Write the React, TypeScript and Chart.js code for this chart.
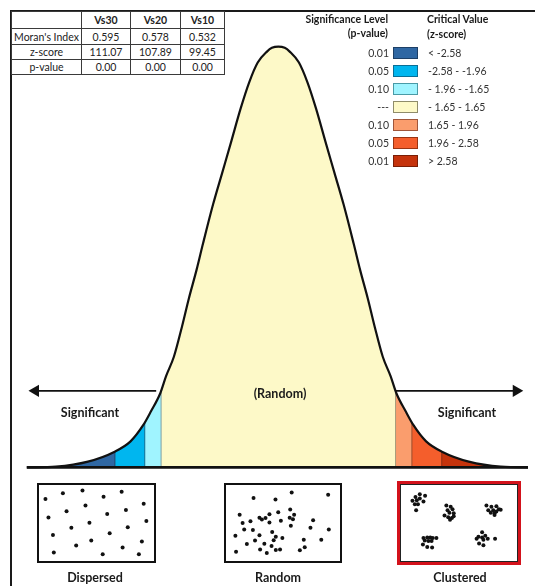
import React, { useEffect, useRef } from "react";
import { Chart, registerables } from "chart.js";
Chart.register(...registerables);

// ---------- Table data ----------
const TABLE_COLS = ["Vs30", "Vs20", "Vs10"];
const MORAN_INDEX = [0.595, 0.578, 0.532];
const Z_SCORES = [111.07, 107.89, 99.45];
const P_VALUES = [0.0, 0.0, 0.0];

// ---------- Legend data ----------
const P_LEVELS = ["0.01", "0.05", "0.10", "---", "0.10", "0.05", "0.01"];
const Z_RANGES = ["< -2.58", "-2.58 - -1.96", "- 1.96 - -1.65", "- 1.65 - 1.65", "1.65 - 1.96", "1.96 - 2.58", "> 2.58"];
const REGION_COLORS = ["#2f67a3", "#00b6ef", "#a0f4ff", "#fdf9c8", "#fa9d6d", "#f45e2c", "#c5330c"];
const REGION_BORDERS = ["#1d3f66", "#0a6f96", "#4a9aa6", "#8f8c6a", "#a0563a", "#9a3412", "#7a1e06"];

// ---------- Bell curve (visual units) ----------
const CURVE_X = [
  -3.54, -3.13, -2.68, -2.31, -2.08, -1.9, -1.8, -1.66, -1.58, -1.47, -1.36, -1.26, -1.15, -1.06, -0.92, -0.79, -0.66,
  -0.53, -0.41, -0.29, -0.16, -0.09, 0, 0.09, 0.16, 0.29, 0.41, 0.53, 0.66, 0.79, 0.92, 1.06, 1.15, 1.26, 1.36, 1.47, 1.58,
  1.66, 1.8, 1.9, 2.08, 2.31, 2.68, 3.13, 3.6,
];
const CURVE_Y = [
  0.0, 0.002, 0.014, 0.037, 0.062, 0.101, 0.131, 0.177, 0.217, 0.263, 0.332, 0.401, 0.47, 0.532, 0.624, 0.7, 0.776, 0.853,
  0.915, 0.962, 0.988, 0.997, 1.0, 0.997, 0.988, 0.962, 0.915, 0.853, 0.776, 0.7, 0.624, 0.532, 0.47, 0.401, 0.332, 0.263,
  0.217, 0.177, 0.131, 0.101, 0.062, 0.037, 0.014, 0.002, 0.0,
];
const REGION_BOUNDS = [-2.3, -1.88, -1.65, 1.65, 1.88, 2.3];
const BOUND_HEIGHTS = [0.038, 0.106, 0.182, 0.182, 0.106, 0.038];
const BOUND_COLORS = ["#22466e", "#1a6f93", "#7f9da2", "#a59a78", "#9a4a2a", "#8a2a10"];
const ARROW_LEFT_X = [-3.418, -1.719];
const ARROW_RIGHT_X = [1.651, 3.349];
const ARROW_Y = 0.182;
const BASELINE_X = [-3.54, 3.6];

// ---------- Point patterns (percent of box) ----------
const DISPERSED_X = [2.3, 18.6, 36.9, 56.6, 73.5, 94.1, 39.7, 22.0, 60.0, 77.5, 5.1, 96.6, 43.4, 26.5, 79.2, 62.3, 9.3, 45.1, 92.4, 31.0, 74.4, 10.1, 55.8, 89.6];
const DISPERSED_Y = [14.7, 6.3, 2.1, 11.3, 4.2, 21.8, 24.4, 32.8, 36.6, 30.7, 42.0, 47.1, 49.6, 57.1, 56.3, 65.1, 67.6, 75.6, 77.3, 83.2, 86.1, 93.3, 95.8, 95.8];

const RANDOM_X = [58.2, 92.6, 22.2, 42.9, 56.8, 45.5, 9.1, 37.2, 60.5, 27.8, 33.5, 30.1, 56.3, 59.4, 19.3, 48.0, 11.9, 37.2, 78.4, 57.4, 75.9, 13.4, 21.6, 93.2, 39.8, 5.1, 27.8, 43.2, 49.4, 23.6, 41.2, 69.6, 86.1, 15.9, 32.4, 39.2, 70.5, 5.7, 28.4, 43.2, 47.2, 65.9, 34.7];
const RANDOM_Y = [5.0, 8.3, 13.3, 15.4, 30.0, 34.2, 37.9, 37.1, 37.9, 42.1, 42.5, 45.0, 42.1, 44.6, 47.5, 46.7, 50.0, 49.2, 45.8, 54.2, 57.1, 59.6, 60.4, 59.6, 63.3, 68.8, 67.9, 70.4, 72.1, 75.8, 75.4, 74.6, 74.6, 80.8, 80.4, 83.8, 85.8, 92.1, 88.8, 89.6, 88.8, 90.0, 94.2];

const CLUSTERED_X = [
  13.7, 18.6, 9.7, 13.7, 6.9, 10.9, 17.1, 9.1, 12.0, 10.3,
  38.3, 42.3, 39.4, 44.0, 41.1, 45.1, 36.6, 40.0, 43.4, 41.7, 45.1,
  75.4, 80.0, 84.6, 77.1, 81.7, 86.9, 79.4, 82.9, 84.6, 88.6, 82.9,
  17.1, 20.6, 23.4, 25.7, 29.1, 18.3, 21.7, 24.6, 16.6, 20.6, 25.1,
  71.4, 68.0, 71.4, 74.3, 66.3, 72.6, 76.6, 83.4, 68.6, 72.6,
];
const CLUSTERED_Y = [
  7.8, 10.0, 11.7, 13.9, 17.4, 16.5, 18.3, 22.6, 22.6, 31.3,
  24.3, 26.1, 31.3, 29.6, 34.8, 35.7, 39.1, 41.7, 42.6, 45.2, 40.0,
  24.3, 26.1, 25.2, 31.3, 31.3, 29.6, 34.8, 35.7, 33.0, 30.4, 38.3,
  72.2, 71.3, 71.3, 72.2, 72.2, 75.7, 76.5, 76.5, 81.7, 85.2, 86.1,
  63.5, 70.4, 71.3, 68.7, 73.0, 74.8, 73.0, 73.0, 80.0, 82.6,
];

const FONT = "Lato, 'Open Sans', sans-serif";

function ChartCanvas({ config, left, top, width, height }: any) {
  const ref = useRef<HTMLCanvasElement | null>(null);
  useEffect(() => {
    if (!ref.current) return;
    const chart = new Chart(ref.current, config);
    return () => chart.destroy();
  }, []);
  return (
    <canvas
      ref={ref}
      width={width}
      height={height}
      style={{ position: "absolute", left, top, width, height, display: "block" }}
    />
  );
}

const baseOptions = (xmin: number, xmax: number, ymin: number, ymax: number, yReverse = false) => ({
  responsive: false,
  maintainAspectRatio: false,
  animation: false,
  devicePixelRatio: 1,
  layout: { padding: 0 },
  plugins: { legend: { display: false }, tooltip: { enabled: false } },
  events: [],
  scales: {
    x: { type: "linear", min: xmin, max: xmax, display: false },
    y: { type: "linear", min: ymin, max: ymax, display: false, reverse: yReverse },
  },
});

function bellConfig() {
  const curve = CURVE_X.map((x, i) => ({ x, y: CURVE_Y[i] }));
  const regionGradient = (ctx: any) => {
    const chart = ctx.chart;
    const area = chart.chartArea;
    if (!area) return REGION_COLORS[3];
    const xs = chart.scales.x;
    const w = area.right - area.left;
    const g = chart.ctx.createLinearGradient(area.left, 0, area.right, 0);
    const frac = (v: number) => Math.min(1, Math.max(0, (xs.getPixelForValue(v) - area.left) / w));
    REGION_COLORS.forEach((c, i) => {
      const s = i === 0 ? 0 : frac(REGION_BOUNDS[i - 1]);
      const e = i === REGION_COLORS.length - 1 ? 1 : frac(REGION_BOUNDS[i]);
      g.addColorStop(s, c);
      g.addColorStop(e, c);
    });
    return g;
  };
  const separators = REGION_BOUNDS.map((b, i) => ({
    data: [
      { x: b, y: 0 },
      { x: b, y: BOUND_HEIGHTS[i] },
    ],
    borderColor: BOUND_COLORS[i],
    borderWidth: 1,
    pointRadius: 0,
    fill: false,
    order: 4,
  }));
  return {
    type: "line",
    data: {
      datasets: [
        {
          data: curve,
          borderWidth: 0,
          borderColor: "rgba(0,0,0,0)",
          backgroundColor: regionGradient,
          fill: "origin",
          pointRadius: 0,
          cubicInterpolationMode: "monotone",
          order: 5,
        },
        ...separators,
        {
          data: curve,
          borderColor: "#111",
          borderWidth: 2.2,
          pointRadius: 0,
          fill: false,
          cubicInterpolationMode: "monotone",
          order: 2,
        },
        {
          data: BASELINE_X.map((x) => ({ x, y: 0 })),
          borderColor: "#111",
          borderWidth: 2.8,
          pointRadius: 0,
          fill: false,
          order: 1,
        },
        {
          data: ARROW_LEFT_X.map((x) => ({ x, y: ARROW_Y })),
          borderColor: "#111",
          borderWidth: 1.8,
          pointRadius: [7, 0],
          pointStyle: "triangle",
          pointRotation: -90,
          pointBackgroundColor: "#111",
          pointBorderColor: "#111",
          pointBorderWidth: 0,
          fill: false,
          order: 1,
        },
        {
          data: ARROW_RIGHT_X.map((x) => ({ x, y: ARROW_Y })),
          borderColor: "#111",
          borderWidth: 1.8,
          pointRadius: [0, 7],
          pointStyle: "triangle",
          pointRotation: 90,
          pointBackgroundColor: "#111",
          pointBorderColor: "#111",
          pointBorderWidth: 0,
          fill: false,
          order: 1,
        },
      ],
    },
    options: baseOptions(-3.678, 3.514, -0.0369, 1.0346),
  };
}

function dotsConfig(xs: number[], ys: number[]) {
  return {
    type: "scatter",
    data: {
      datasets: [
        {
          data: xs.map((x, i) => ({ x, y: ys[i] })),
          pointRadius: 2,
          pointBackgroundColor: "#111",
          pointBorderWidth: 0,
          clip: false,
        },
      ],
    },
    options: baseOptions(0, 100, 0, 100, true),
  };
}

function Txt({ x, y, children, align = "center", size = 11, bold = false, color = "#1a1a1a" }: any) {
  const lh = Math.round(size * 1.3);
  const style: any = {
    position: "absolute",
    top: y - lh / 2,
    lineHeight: lh + "px",
    fontSize: size,
    fontWeight: bold ? 700 : 400,
    fontFamily: FONT,
    color,
    whiteSpace: "nowrap",
  };
  if (align === "center") {
    style.left = x;
    style.transform = "translateX(-50%)";
  } else if (align === "right") {
    style.right = 535 - x;
  } else {
    style.left = x;
  }
  return <div style={style}>{children}</div>;
}

function DotBox({ left, top, width, height, border, inner, xs, ys }: any) {
  const cw = width - 2 * border - 2 * inner;
  const ch = height - 2 * border - 2 * inner;
  return (
    <div
      style={{
        position: "absolute",
        left,
        top,
        width,
        height,
        boxSizing: "border-box",
        border: border === 3 ? "3px solid #d3121b" : `${border}px solid #111`,
        background: "#fff",
      }}
    >
      <div
        style={{
          position: "absolute",
          left: 0,
          top: 0,
          right: 0,
          bottom: 0,
          border: inner ? `${inner}px solid #222` : "none",
        }}
      >
        <ChartCanvas config={dotsConfig(xs, ys)} left={0} top={0} width={cw} height={ch} />
      </div>
    </div>
  );
}

export default function App() {
  const colW = [69, 48, 49, 43];
  const rowH = [16, 15, 14, 14];
  const cell = (content: any, w: number, h: number, bold = false) => (
    <td
      style={{
        width: w,
        height: h,
        padding: 0,
        border: "1px solid #3a3a3a",
        textAlign: "center",
        fontWeight: bold ? 700 : 400,
        fontSize: 10.5,
        fontFamily: FONT,
        color: "#222",
        lineHeight: "12px",
      }}
    >
      {content}
    </td>
  );
  const rows = [
    { label: "Moran's Index", vals: MORAN_INDEX.map((v) => v.toFixed(3)) },
    { label: "z-score", vals: Z_SCORES.map((v) => v.toFixed(2)) },
    { label: "p-value", vals: P_VALUES.map((v) => v.toFixed(2)) },
  ];
  const legendY = [53, 71, 89, 107, 125, 143, 161];

  return (
    <div style={{ position: "absolute", left: 0, top: 0, width: 535, height: 586, overflow: "hidden", background: "#fff" }}>
      {/* frame */}
      <div
        style={{
          position: "absolute",
          left: 10,
          top: 10,
          width: 540,
          height: 600,
          borderTop: "2px solid #1a1a1a",
          borderLeft: "2px solid #1a1a1a",
        }}
      />
      <ChartCanvas config={bellConfig()} left={10} top={25} width={525} height={465} />

      {/* table */}
      <table
        style={{
          position: "absolute",
          left: 11,
          top: 11,
          borderCollapse: "collapse",
          border: "1.5px solid #222",
          background: "#fff",
          tableLayout: "fixed",
        }}
      >
        <tbody>
          <tr>
            {cell("", colW[0], rowH[0])}
            {TABLE_COLS.map((c, i) => (
              <React.Fragment key={c}>{cell(c, colW[i + 1], rowH[0], true)}</React.Fragment>
            ))}
          </tr>
          {rows.map((r, ri) => (
            <tr key={r.label}>
              {cell(r.label, colW[0], rowH[ri + 1])}
              {r.vals.map((v, i) => (
                <React.Fragment key={i}>{cell(v, colW[i + 1], rowH[ri + 1])}</React.Fragment>
              ))}
            </tr>
          ))}
        </tbody>
      </table>

      {/* legend */}
      <Txt x={388} y={19} align="right" size={10.5} bold>
        Significance Level
      </Txt>
      <Txt x={388} y={33} align="right" size={10.5} bold>
        (p-value)
      </Txt>
      <Txt x={427} y={19} align="left" size={10.5} bold>
        Critical Value
      </Txt>
      <Txt x={427} y={34} align="left" size={10.5} bold>
        (z-score)
      </Txt>
      {P_LEVELS.map((p, i) => (
        <React.Fragment key={i}>
          <Txt x={389} y={legendY[i]} align="right" size={10.5} color="#333">
            {p}
          </Txt>
          <div
            style={{
              position: "absolute",
              left: 393,
              top: legendY[i] - 6,
              width: 25,
              height: 12,
              boxSizing: "border-box",
              background: REGION_COLORS[i],
              border: `1px solid ${REGION_BORDERS[i]}`,
            }}
          />
          <Txt x={428} y={legendY[i]} align="left" size={10.5} color="#333">
            {Z_RANGES[i]}
          </Txt>
        </React.Fragment>
      ))}

      {/* curve labels */}
      <Txt x={90} y={413} size={12.5} bold>
        Significant
      </Txt>
      <Txt x={467} y={413} size={12.5} bold>
        Significant
      </Txt>
      <Txt x={280} y={394} size={12.5} bold>
        (Random)
      </Txt>

      {/* pattern boxes */}
      <DotBox left={37} top={483} width={119} height={80} border={2} inner={0} xs={DISPERSED_X} ys={DISPERSED_Y} />
      <DotBox left={224} top={483} width={118} height={80} border={2} inner={0} xs={RANDOM_X} ys={RANDOM_Y} />
      <DotBox left={397} top={481} width={124} height={84} border={3} inner={1} xs={CLUSTERED_X} ys={CLUSTERED_Y} />

      <Txt x={95} y={578} size={12.5} bold>
        Dispersed
      </Txt>
      <Txt x={278} y={578} size={12.5} bold>
        Random
      </Txt>
      <Txt x={460} y={578} size={12.5} bold>
        Clustered
      </Txt>
    </div>
  );
}
